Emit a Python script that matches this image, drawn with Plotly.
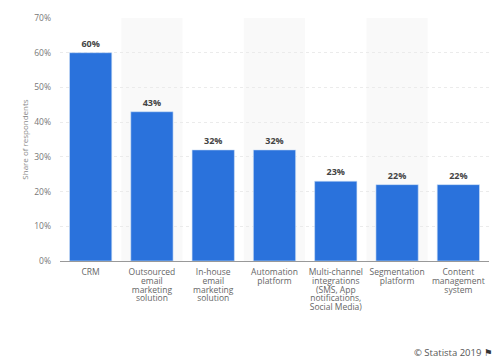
import plotly.graph_objects as go

categories = ["CRM", "Outsourced<br>email<br>marketing<br>solution", "In-house<br>email<br>marketing<br>solution",
              "Automation<br>platform", "Multi-channel<br>integrations<br>(SMS, App<br>notifications,<br>Social Media)",
              "Segmentation<br>platform", "Content<br>management<br>system"]
values = [60, 43, 32, 32, 23, 22, 22]
labels = ["60%", "43%", "32%", "32%", "23%", "22%", "22%"]
y_ticks = [0, 10, 20, 30, 40, 50, 60, 70]
y_tick_labels = ["0%", "10%", "20%", "30%", "40%", "50%", "60%", "70%"]
shaded = [1, 3, 5]

FONT = "Open Sans"
fig = go.Figure(go.Bar(
    x=list(range(len(values))), y=values, width=0.69,
    marker=dict(color="#2a72dc", line=dict(color="#cfe0f7", width=0.6)),
    text=labels, textposition="outside", cliponaxis=False,
    textfont=dict(family=FONT, size=9, color="#444444", weight="bold"),
))
for i in shaded:
    fig.add_shape(type="rect", xref="x", yref="y", x0=i - 0.5, x1=i + 0.5, y0=0, y1=70,
                  fillcolor="#f9f9f9", line_width=0, layer="below")
fig.update_layout(
    width=500, height=363, autosize=False, showlegend=False,
    paper_bgcolor="white", plot_bgcolor="white",
    margin=dict(l=60.4, r=11, t=17.5, b=102),
    font=dict(family=FONT, size=9, color="#666666"),
    annotations=[dict(text="© Statista 2019 <span style='font-family:DejaVu Sans;color:#333'>⚑</span>",
                      xref="paper", yref="paper", x=1.012, y=-0.377, xanchor="right", yanchor="middle",
                      showarrow=False, font=dict(family=FONT, size=9.5, color="#555555"))],
)
fig.update_xaxes(tickmode="array", tickvals=list(range(len(values))), ticktext=categories,
                 range=[-0.5, 6.5], showgrid=False, ticks="", showline=True, linecolor="#999999", linewidth=1,
                 tickfont=dict(family=FONT, size=8.5, color="#666666"), tickangle=0, ticklabelstandoff=3,
                 fixedrange=True)
fig.update_yaxes(tickmode="array", tickvals=y_ticks, ticktext=y_tick_labels, range=[0, 70],
                 showgrid=True, gridcolor="#ebebeb", gridwidth=1, griddash="dot", zeroline=False, ticks="",
                 tickfont=dict(family=FONT, size=8.5, color="#777777"), ticklabelstandoff=8, fixedrange=True,
                 title=dict(text="Share of respondents", font=dict(family=FONT, size=8, color="#888888"), standoff=4))
post = """
document.body.style.margin = '0';
document.querySelectorAll('.xtick text').forEach(function (t) {
  t.querySelectorAll('tspan.line').forEach(function (s, k) { s.setAttribute('dy', (k * 8.67) + 'px'); });
});
"""
fig.write_html("out.html", post_script=post, config={"displayModeBar": False})
